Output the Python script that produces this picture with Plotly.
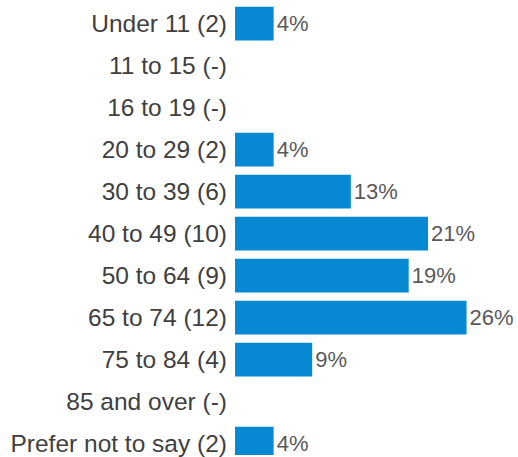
import plotly.graph_objects as go

categories = ["Under 11 (2)", "11 to 15 (-)", "16 to 19 (-)", "20 to 29 (2)", "30 to 39 (6)",
              "40 to 49 (10)", "50 to 64 (9)", "65 to 74 (12)", "75 to 84 (4)", "85 and over (-)",
              "Prefer not to say (2)"]
percentages = [4.26, 0, 0, 4.26, 12.77, 21.28, 19.15, 25.53, 8.51, 0, 4.26]
value_labels = ["4%", "", "", "4%", "13%", "21%", "19%", "26%", "9%", "", "4%"]

FONT = "Arial, Liberation Sans, sans-serif"

fig = go.Figure(go.Bar(
    x=percentages,
    y=categories,
    orientation="h",
    marker=dict(color="#0788D2", line=dict(width=0)),
    text=value_labels,
    textposition="outside",
    textfont=dict(color="#595959", size=22, family=FONT),
    cliponaxis=False,
    constraintext="none",
    hoverinfo="skip",
))

fig.update_layout(
    width=518, height=457,
    margin=dict(l=235, r=0, t=0, b=0),
    paper_bgcolor="white", plot_bgcolor="white",
    bargap=0.194,
    showlegend=False,
    font=dict(family=FONT, size=24, color="#404040"),
)
fig.update_xaxes(range=[0, 31.2], visible=False, showgrid=False, zeroline=False)
fig.update_yaxes(
    type="category",
    categoryorder="array", categoryarray=categories,
    range=[10.27, -0.562],
    showgrid=False, zeroline=False, showline=False,
    ticks="", ticklabelstandoff=7,
    tickfont=dict(size=24.5, color="#404040", family=FONT),
)

fig.write_html(
    "out.html",
    config={"displayModeBar": False},
    post_script="document.body.style.margin='0';document.body.style.overflow='hidden';",
)
